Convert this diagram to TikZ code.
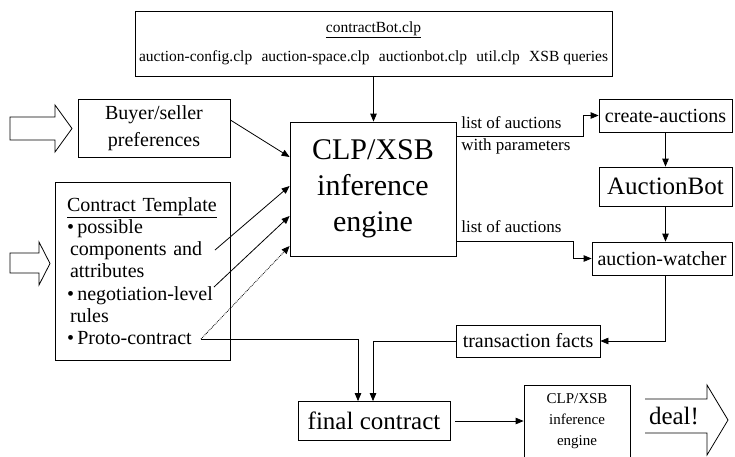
\documentclass[tikz,border=0pt]{standalone}
\usepackage{fontspec}
\setmainfont{Liberation Serif}
\usetikzlibrary{arrows.meta}
\begin{document}
\begin{tikzpicture}[x=1pt,y=-1pt, line width=0.8pt,
  box/.style={draw, inner sep=0pt, anchor=center, align=center},
  arr/.style={-{Triangle[length=8pt,width=6.5pt]}},
  lab/.style={anchor=west, inner sep=0pt, font=\fontsize{17}{20}\selectfont},
  hollow/.style={draw, line width=0.8pt}]
\useasboundingbox (0,0) rectangle (735,456);

% boxes
\node[box, minimum width=477pt, minimum height=65pt, font=\fontsize{15.5}{29}\selectfont] (top) at (373.5,43.5)
  {\underline{contractBot.clp}\\auction-config.clp\hspace{0.6em}auction-space.clp\hspace{0.6em}auctionbot.clp\hspace{0.6em}util.clp\hspace{0.6em}XSB queries};
\node[box, minimum width=152pt, minimum height=58pt, font=\fontsize{20}{27}\selectfont] (buyer) at (154,128)
  {Buyer/seller\\preferences};
\node[box, minimum width=166pt, minimum height=134pt, font=\fontsize{30}{36}\selectfont] (clp) at (373,189)
  {CLP/XSB\\inference\\engine};
\node[draw, inner sep=0pt, minimum width=175pt, minimum height=178pt, align=left, text width=151pt,
      font=\fontsize{20}{22.2}\selectfont] (tmpl) at (142.5,271)
  {\underline{Contract Template}\\
   •\,possible\\
   \hspace*{3pt}components and\\
   \hspace*{3pt}attributes\\
   •\,negotiation-level\\
   \hspace*{3pt}rules\\
   •\,Proto-contract};
\node[box, minimum width=133pt, minimum height=33pt, font=\fontsize{20}{24}\selectfont] (create) at (665.5,115.5) {create-auctions};
\node[box, minimum width=133pt, minimum height=39pt, font=\fontsize{25}{30}\selectfont] (abot) at (665.5,186.5) {AuctionBot};
\node[box, minimum width=140pt, minimum height=33pt, font=\fontsize{20}{24}\selectfont] (watch) at (662,258.5) {auction-watcher};
\node[box, minimum width=144pt, minimum height=32pt, font=\fontsize{20}{24}\selectfont] (facts) at (528,341) {transaction facts};
\node[box, minimum width=152pt, minimum height=39pt, font=\fontsize{25}{30}\selectfont] (final) at (374,421) {final contract};
\node[box, minimum width=106pt, minimum height=73pt, font=\fontsize{15}{21}\selectfont] (small) at (577,421.5)
  {CLP/XSB\\inference\\engine};

% labels
\node[lab] (l1) at (461,123) {list of auctions};
\node[lab] (l2) at (461,146) {with parameters};
\node[lab] (l3) at (461,227) {list of auctions};

% hollow arrows
\draw[hollow] (10,117) -- (55,117) -- (55,105) -- (72,128.5) -- (55,152) -- (55,140) -- (10,140) -- cycle;
\draw[hollow] (10,253) -- (39,253) -- (39,242) -- (50,263.5) -- (39,285) -- (39,273) -- (10,273) -- cycle;
\draw[hollow] (645,399) -- (707,399) -- (707,385) -- (728,420) -- (707,455) -- (707,433) -- (645,433);
\node[inner sep=0pt, font=\fontsize{25}{30}\selectfont] (deal) at (674,416) {deal!};

% anchor points in template
\coordinate (comp) at (215,250);
\coordinate (nego) at (214,287);
\coordinate (proto) at (201,339);

% connectors
\draw[arr] (top.south) -- (top.south |- clp.north);
\draw[arr] ([yshift=8pt]buyer.east) -- ([yshift=32pt]clp.west);
\draw[arr] (comp) -- ([yshift=3pt]clp.west);
\draw[arr] (nego) -- ([yshift=-27pt]clp.west);
\draw[arr, densely dotted] (proto) -- ([yshift=-57pt]clp.west);
\draw[arr] ([yshift=53pt]clp.east) -- ++(127,0) |- (create.west);
\draw[arr] ([yshift=-52pt]clp.east) -- ++(117,0) |- (watch.west);
\draw[arr] (create.south) -- (abot.north);
\draw[arr] (abot.south) -- (abot.south |- watch.north);
\draw[arr] ([xshift=3pt]watch.south) |- (facts.east);
\draw[arr] (facts.west) -| ([xshift=-1pt]final.north);
\draw[arr] (proto) -| ([xshift=-16pt]final.north);
\draw[arr] ([xshift=5pt]final.east) -- (final.east -| small.west);
\end{tikzpicture}
\end{document}
